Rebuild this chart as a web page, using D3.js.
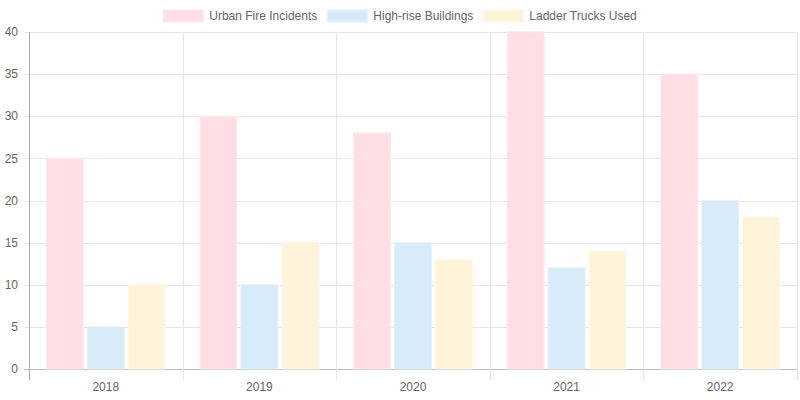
<!DOCTYPE html>
<html>
<head>
<meta charset="utf-8">
<script src="https://cdn.jsdelivr.net/npm/d3@7"></script>
<style>
  body { margin:0; background:#fff; }
  svg text { font-family:"Liberation Sans", Arial, sans-serif; }
</style>
</head>
<body>
<div id="chart"></div>
<script>
// Daten
const years    = ['2018','2019','2020','2021','2022'];
const fires    = [25, 30, 28, 40, 35];
const highrise = [5, 10, 15, 12, 20];
const ladders  = [10, 15, 13, 14, 18];
const yTicks   = [0, 5, 10, 15, 20, 25, 30, 35, 40];

const series = [
  { name:'Urban Fire Incidents', values:fires,    fill:'#ffdfe5', stroke:'#ffe8ec' },
  { name:'High-rise Buildings',  values:highrise, fill:'#d7ebf9', stroke:'#e3f1fb' },
  { name:'Ladder Trucks Used',   values:ladders,  fill:'#fff3da', stroke:'#fff7e6' }
];

const W = 800, H = 400;
const m = { top:32, right:3, bottom:31, left:29 };
const w = W - m.left - m.right, h = H - m.top - m.bottom;

const svg = d3.select('#chart').append('svg')
  .attr('width', W).attr('height', H);

const g = svg.append('g').attr('transform', `translate(${m.left},${m.top})`);

const x0 = d3.scaleBand().domain(years).range([0, w]).paddingInner(0).paddingOuter(0);
const groupW = x0.bandwidth() * 0.8;
const x1 = d3.scaleBand().domain(series.map(s => s.name))
  .range([(x0.bandwidth() - groupW) / 2, (x0.bandwidth() + groupW) / 2])
  .paddingInner(0.1).paddingOuter(0.05);
const y = d3.scaleLinear().domain([0, 40]).range([h, 0]);

// Gitter horizontal
g.selectAll('line.hgrid').data(yTicks).enter().append('line')
  .attr('x1', -5).attr('x2', w)
  .attr('y1', d => Math.round(y(d)) + 0.5).attr('y2', d => Math.round(y(d)) + 0.5)
  .attr('stroke', d => d === 0 ? '#bbb' : '#e6e6e6');

// Gitter vertikal (Kategoriengrenzen)
const bounds = years.map(d => x0(d)).concat([w]);
g.selectAll('line.vgrid').data(bounds).enter().append('line')
  .attr('x1', d => Math.round(d) + 0.5).attr('x2', d => Math.round(d) + 0.5)
  .attr('y1', 0).attr('y2', h + 11)
  .attr('stroke', (d, i) => i === 0 ? '#aaa' : '#e6e6e6');

// Balken
const grp = g.selectAll('g.year').data(years).enter().append('g')
  .attr('transform', d => `translate(${x0(d)},0)`);
series.forEach(s => {
  grp.append('rect')
    .attr('x', (d) => x1(s.name))
    .attr('width', x1.bandwidth())
    .attr('y', (d, i) => y(s.values[years.indexOf(d)]))
    .attr('height', d => h - y(s.values[years.indexOf(d)]))
    .attr('fill', s.fill)
    .attr('stroke', s.stroke).attr('stroke-width', 1);
});

// Achsenbeschriftungen
g.selectAll('text.ytick').data(yTicks).enter().append('text')
  .attr('x', -11).attr('y', d => y(d)).attr('dy', '0.35em')
  .attr('text-anchor', 'end').attr('font-size', 12).attr('fill', '#666')
  .text(d => d);

g.selectAll('text.xtick').data(years).enter().append('text')
  .attr('x', d => x0(d) + x0.bandwidth() / 2).attr('y', h + 22)
  .attr('text-anchor', 'middle').attr('font-size', 12).attr('fill', '#666')
  .text(d => d);

// Legende
const leg = svg.append('g');
let lx = 0;
series.forEach(s => {
  const it = leg.append('g');
  it.append('rect').attr('x', 0).attr('y', 10).attr('width', 40).attr('height', 12)
    .attr('fill', s.fill).attr('stroke', s.stroke);
  const t = it.append('text').attr('x', 46).attr('y', 20)
    .attr('font-size', 12).attr('fill', '#666').text(s.name);
  const tw = t.node().getComputedTextLength();
  it.attr('transform', `translate(${lx},0)`);
  lx += 46 + tw + 10;
});
const totalW = lx - 10;
leg.attr('transform', `translate(${(W - totalW) / 2},0)`);
</script>
</body>
</html>
